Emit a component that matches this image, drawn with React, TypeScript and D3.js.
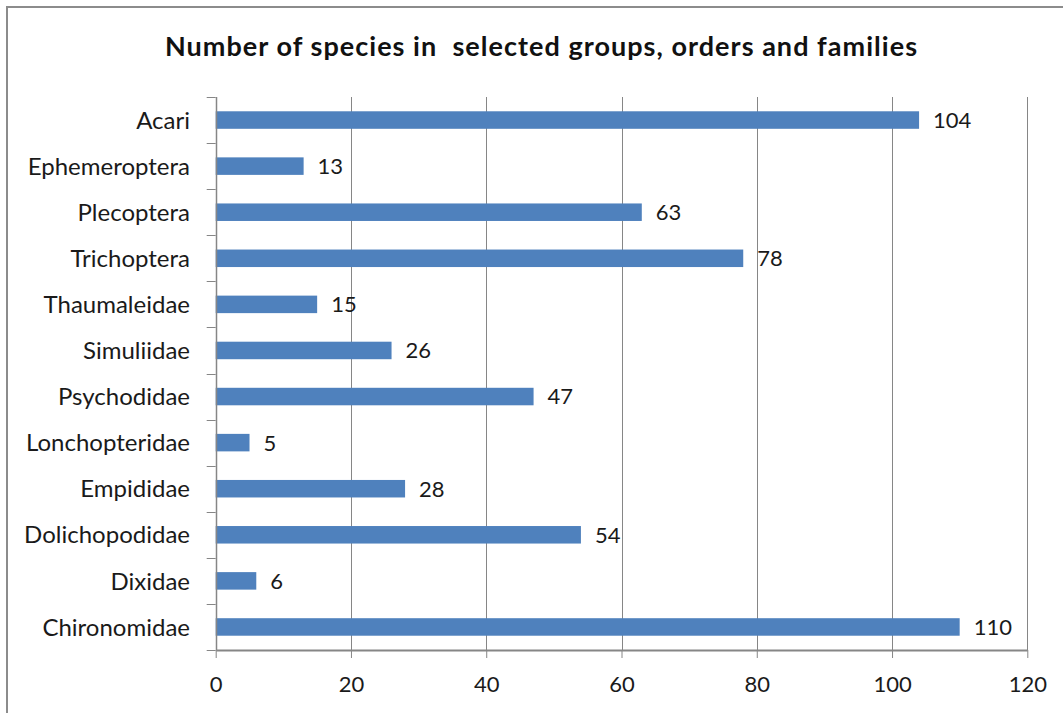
import { useEffect, useRef } from "react";
import * as d3 from "d3";

const W = 1063;
const H = 713;
const PLOT = { left: 215.7, right: 1027.3, top: 97, bottom: 650 };

const CATEGORIES = [
  "Acari",
  "Ephemeroptera",
  "Plecoptera",
  "Trichoptera",
  "Thaumaleidae",
  "Simuliidae",
  "Psychodidae",
  "Lonchopteridae",
  "Empididae",
  "Dolichopodidae",
  "Dixidae",
  "Chironomidae",
];
const SPECIES = [104, 13, 63, 78, 15, 26, 47, 5, 28, 54, 6, 110];
const X_TICKS = [0, 20, 40, 60, 80, 100, 120];

const TITLE = "Number of species in  selected groups, orders and families";
const FONT = 'Lato, "Open Sans", sans-serif';
const BAR = "#4F81BD";
const GRID = "#868686";
const TEXT = "#1a1a1a";

export default function App() {
  const svgRef = useRef<SVGSVGElement | null>(null);

  useEffect(() => {
    const svg = d3.select(svgRef.current);
    svg.selectAll("*").remove();

    const x = d3.scaleLinear().domain([0, 120]).range([PLOT.left, PLOT.right]);
    const y = d3
      .scaleBand<string>()
      .domain(CATEGORIES)
      .range([PLOT.top, PLOT.bottom])
      .paddingInner(0.62)
      .paddingOuter(0.31);

    // chart frame (cut off at right/bottom like the source)
    svg
      .append("rect")
      .attr("x", 7)
      .attr("y", 7)
      .attr("width", W + 10)
      .attr("height", H + 10)
      .attr("fill", "#fff")
      .attr("stroke", "#8c8c8c")
      .attr("stroke-width", 2);

    svg
      .append("text")
      .attr("x", 541)
      .attr("y", 56)
      .attr("text-anchor", "middle")
      .attr("font-family", FONT)
      .attr("font-weight", 700)
      .attr("font-size", 27)
      .attr("textLength", 752)
      .attr("lengthAdjust", "spacing")
      .attr("fill", "#111")
      .style("white-space", "pre")
      .text(TITLE);

    // vertical gridlines
    svg
      .append("g")
      .selectAll("line")
      .data(X_TICKS.slice(1))
      .join("line")
      .attr("x1", (d) => Math.round(x(d)) + 0.5)
      .attr("x2", (d) => Math.round(x(d)) + 0.5)
      .attr("y1", PLOT.top)
      .attr("y2", PLOT.bottom)
      .attr("stroke", GRID)
      .attr("stroke-width", 1);

    // bars
    svg
      .append("g")
      .selectAll("rect")
      .data(CATEGORIES)
      .join("rect")
      .attr("x", x(0))
      .attr("y", (d) => y(d)!)
      .attr("width", (_, i) => x(SPECIES[i]) - x(0))
      .attr("height", y.bandwidth())
      .attr("fill", BAR);

    // value labels
    svg
      .append("g")
      .selectAll("text")
      .data(CATEGORIES)
      .join("text")
      .attr("x", (_, i) => x(SPECIES[i]) + 14)
      .attr("y", (d) => y(d)! + y.bandwidth() / 2)
      .attr("dy", "0.36em")
      .attr("font-family", FONT)
      .attr("font-size", 22)
      .attr("fill", TEXT)
      .text((_, i) => String(SPECIES[i]));

    // x axis
    const xAxis = svg
      .append("g")
      .attr("transform", `translate(0,${PLOT.bottom})`)
      .call(d3.axisBottom(x).tickValues(X_TICKS).tickSize(8).tickPadding(18).tickSizeOuter(0));
    xAxis.select(".domain").attr("stroke", GRID).attr("stroke-width", 2);
    xAxis.selectAll(".tick line").attr("stroke", GRID);
    xAxis
      .selectAll(".tick text")
      .attr("font-family", FONT)
      .attr("font-size", 22)
      .attr("fill", TEXT);

    // y axis line with ticks at category boundaries
    const yAxis = svg.append("g");
    yAxis
      .append("line")
      .attr("x1", Math.round(x(0)) + 0.5)
      .attr("x2", Math.round(x(0)) + 0.5)
      .attr("y1", PLOT.top)
      .attr("y2", PLOT.bottom)
      .attr("stroke", GRID)
      .attr("stroke-width", 1.5);
    const step = y.step();
    yAxis
      .selectAll(".ytick")
      .data(d3.range(CATEGORIES.length + 1))
      .join("line")
      .attr("x1", x(0) - 9)
      .attr("x2", x(0))
      .attr("y1", (i) => Math.round(PLOT.top + i * step) + 0.5)
      .attr("y2", (i) => Math.round(PLOT.top + i * step) + 0.5)
      .attr("stroke", GRID)
      .attr("stroke-width", 1);
    yAxis
      .selectAll("text")
      .data(CATEGORIES)
      .join("text")
      .attr("x", 190)
      .attr("y", (d) => y(d)! + y.bandwidth() / 2)
      .attr("dy", "0.36em")
      .attr("text-anchor", "end")
      .attr("font-family", FONT)
      .attr("font-size", 24)
      .attr("fill", TEXT)
      .text((d) => d);
  }, []);

  return (
    <svg
      ref={svgRef}
      width={W}
      height={H}
      style={{ position: "absolute", left: 0, top: 0, display: "block", background: "#fff" }}
    />
  );
}
